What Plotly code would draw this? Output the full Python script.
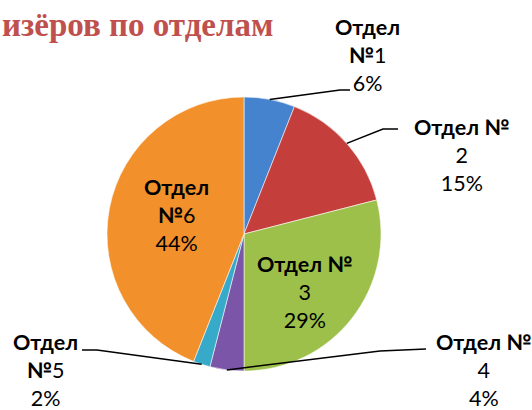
import math
import plotly.graph_objects as go

departments = ["Отдел №1", "Отдел №2", "Отдел №3", "Отдел №4", "Отдел №5", "Отдел №6"]
shares = [6, 15, 29, 4, 2, 44]
colors = ["#4683CF", "#C43F3C", "#9CC04A", "#7B55A8", "#37A9C9", "#F2902C"]
title_text = "изёров по отделам"

W, H = 532, 410
cx, cy, R = 244, 234, 137  # pixel centre / radius of the pie

fig = go.Figure()
fig.add_trace(go.Pie(
    labels=departments, values=shares, sort=False, direction="clockwise",
    rotation=0, textinfo="none", hoverinfo="label+percent",
    marker=dict(colors=colors, line=dict(color="rgba(255,255,255,0.55)", width=1)),
    domain=dict(x=[(cx - R) / W, (cx + R) / W], y=[(H - cy - R) / H, (H - cy + R) / H]),
    showlegend=False,
))

def px(x, y):
    return x / W, 1 - y / H

def label_text(i, split):
    name = departments[i]
    num = name.replace("Отдел №", "")
    pct = f"{shares[i]}%"
    if split:
        return f"<b>Отдел</b><br><b>№</b>{num}<br>{pct}"
    return f"<b>Отдел №</b><br>{num}<br>{pct}"

label_pos = [(367, 55, True), (462, 155, False), (305, 292, False),
             (484, 370, False), (45, 370, True), (176, 215, True)]
fnt = dict(family="Lato, Open Sans, sans-serif", size=21.5, color="#000000")
for i, (x, y, split) in enumerate(label_pos):
    ax, ay = px(x, y)
    fig.add_annotation(x=ax, y=ay, xref="paper", yref="paper", text=label_text(i, split),
                       showarrow=False, font=fnt, align="center", xanchor="center", yanchor="middle")

# leader lines from slice-edge midpoints (derived from data) to labels
total = sum(shares)
cum = 0
mids = []
for v in shares:
    mids.append((cum + v / 2) / total * 2 * math.pi)
    cum += v

leader_ends = {0: [(340, 90), (350, 90)], 1: [(383, 129), (398, 129)],
               3: [(380, 351), (426, 349)], 4: [(97, 350), (82, 350)]}
for i, pts in leader_ends.items():
    a = mids[i]
    ex, ey = cx + R * math.sin(a), cy - R * math.cos(a)
    path_pts = [(ex, ey)] + pts
    p = "M " + " L ".join(f"{x/W:.4f},{1 - y/H:.4f}" for x, y in path_pts)
    fig.add_shape(type="path", path=p, xref="paper", yref="paper",
                  line=dict(color="black", width=1.5))

fig.add_annotation(x=0, y=1 - 25 / H, xref="paper", yref="paper", text=f"<b>{title_text}</b>",
                   showarrow=False, xanchor="left", yanchor="middle",
                   font=dict(family="Liberation Serif, DejaVu Serif, serif", size=33, color="#C0504D"))

fig.update_layout(width=W, height=H, margin=dict(l=0, r=0, t=0, b=0),
                  paper_bgcolor="white", plot_bgcolor="white")
fig.write_html("out.html", config={"displayModeBar": False},
               post_script="document.body.style.margin='0';document.body.style.padding='0';")
